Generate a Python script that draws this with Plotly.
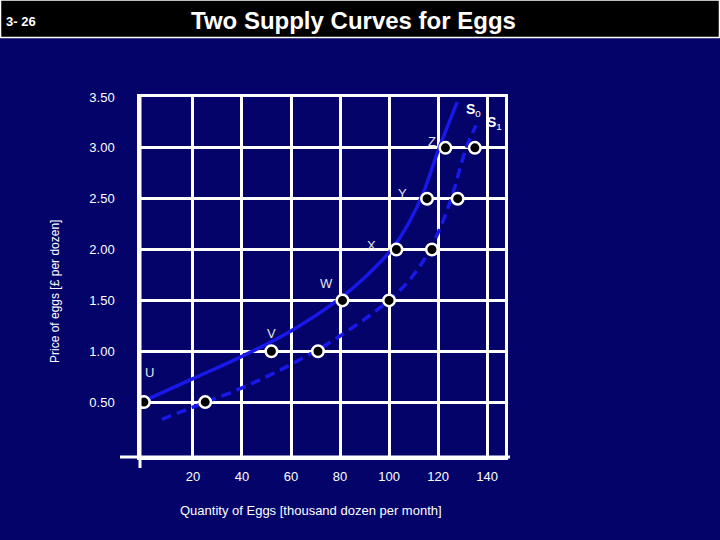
import plotly.graph_objects as go

# ---- data ----
prices = [0.50, 1.00, 1.50, 2.00, 2.50, 3.00]
s0_qty = [0, 52, 81, 103, 115.5, 123]
s1_qty = [25, 71, 100, 117.5, 128, 135]
point_labels = ["U", "V", "W", "X", "Y", "Z"]

# hand-drawn supply curves
s0_curve_x = [1.6, 20, 40, 60, 80, 92, 101, 108, 114, 120, 127.8]
s0_curve_y = [0.53, 0.73, 0.95, 1.20, 1.52, 1.77, 2.00, 2.26, 2.56, 2.97, 3.45]
s1_curve_x = [7.3, 20, 40, 60, 80, 100, 109, 116, 121.5, 126, 131.5, 135.5]
s1_curve_y = [0.33, 0.45, 0.64, 0.87, 1.15, 1.50, 1.72, 1.97, 2.25, 2.55, 3.00, 3.22]

x_ticks = [20, 40, 60, 80, 100, 120, 140]
y_ticks = [0.50, 1.00, 1.50, 2.00, 2.50, 3.00, 3.50]

title_text = "Two Supply Curves for Eggs"
slide_no = "3- 26"
x_title = "Quantity of Eggs [thousand dozen per month]"
y_title = "Price of eggs [£ per dozen]"

# ---- layout geometry (pixels) ----
W, H = 720, 540
L, R, T, B = 140, 505, 97, 457
BG = "#03036a"
CURVE = "#1818e8"
FONT = "Liberation Sans, Arial, sans-serif"


def px(xp):
    return (xp - L) / (R - L)


def py(yp):
    return (B - yp) / (B - T)


fig = go.Figure()

fig.add_trace(go.Scatter(x=s0_curve_x, y=s0_curve_y, mode="lines",
                         line=dict(color=CURVE, width=3.5, shape="spline", smoothing=1),
                         hoverinfo="skip", showlegend=False))
fig.add_trace(go.Scatter(x=s1_curve_x, y=s1_curve_y, mode="lines",
                         line=dict(color=CURVE, width=3.5, shape="spline", smoothing=1,
                                   dash="10px,6px"),
                         hoverinfo="skip", showlegend=False))

marker = dict(size=11.5, color="black", line=dict(color="white", width=2.5))
fig.add_trace(go.Scatter(x=s0_qty, y=prices, mode="markers", marker=marker,
                         showlegend=False, name="S0"))
fig.add_trace(go.Scatter(x=s1_qty, y=prices, mode="markers", marker=marker,
                         showlegend=False, name="S1"))

annotations = []
# point labels, offset from their points in pixels
offsets = [(6, 30), (0, 18), (-16, 17), (-25, 4), (-25, 5), (-13, 6)]
for lab, xq, yp, (dx, dy) in zip(point_labels, s0_qty, prices, offsets):
    annotations.append(dict(x=xq, y=yp, xref="x", yref="y", text=lab, showarrow=False,
                            xshift=dx, yshift=dy,
                            font=dict(family=FONT, size=13, color="#e6e6e6")))

annotations += [
    dict(x=px(464), y=py(110), xref="paper", yref="paper", xanchor="left", yanchor="middle",
         text="<b>S</b><sub>0</sub>", showarrow=False,
         font=dict(family=FONT, size=14, color="white")),
    dict(x=px(485), y=py(123), xref="paper", yref="paper", xanchor="left", yanchor="middle",
         text="<b>S</b><sub>1</sub>", showarrow=False,
         font=dict(family=FONT, size=14, color="white")),
    dict(x=px(353), y=py(20), xref="paper", yref="paper", xanchor="center", yanchor="middle",
         text="<b>" + title_text + "</b>", showarrow=False,
         font=dict(family=FONT, size=24, color="white")),
    dict(x=px(4), y=py(21), xref="paper", yref="paper", xanchor="left", yanchor="middle",
         text="<b>" + slide_no + "</b>", showarrow=False,
         font=dict(family=FONT, size=13, color="white")),
    dict(x=px(311), y=py(510), xref="paper", yref="paper", xanchor="center", yanchor="middle",
         text=x_title, showarrow=False,
         font=dict(family=FONT, size=13, color="white")),
    dict(x=px(55), y=py(292), xref="paper", yref="paper", xanchor="center", yanchor="middle",
         text=y_title, showarrow=False, textangle=-90,
         font=dict(family=FONT, size=12, color="white")),
]

shapes = [
    # header bar
    dict(type="rect", xref="paper", yref="paper", x0=px(0.5), x1=px(719.5),
         y0=py(37.5), y1=py(0), fillcolor="black", line=dict(color="white", width=1.5),
         layer="above"),
    # axis cross extensions
    dict(type="line", xref="paper", yref="paper", x0=px(120), x1=px(510), y0=0, y1=0,
         line=dict(color="white", width=3)),
    dict(type="line", xref="paper", yref="paper", x0=0, x1=0, y0=py(468), y1=1,
         line=dict(color="white", width=3)),
]

fig.update_layout(
    width=W, height=H,
    margin=dict(l=L, r=W - R, t=T, b=H - B, pad=0),
    paper_bgcolor=BG, plot_bgcolor=BG,
    font=dict(family=FONT, size=13, color="white"),
    annotations=annotations, shapes=shapes,
    showlegend=False,
)
fig.update_xaxes(range=[-1.6, 147.3], tickvals=x_ticks, ticktext=[str(v) for v in x_ticks],
                 showgrid=True, gridcolor="white", gridwidth=2.5,
                 showline=True, mirror=True, linecolor="white", linewidth=2.5,
                 zeroline=False, ticks="", ticklabelstandoff=6,
                 tickfont=dict(family=FONT, size=13, color="white"))
fig.update_yaxes(range=[-0.04, 3.5], tickvals=y_ticks, ticktext=["%.2f" % v for v in y_ticks],
                 showgrid=True, gridcolor="white", gridwidth=2.5,
                 showline=True, mirror=True, linecolor="white", linewidth=2.5,
                 zeroline=False, ticks="", ticklabelstandoff=20,
                 tickfont=dict(family=FONT, size=13, color="white"))

fig.write_html("out.html", config={"displayModeBar": False},
               post_script="document.body.style.margin='0';document.body.style.background='%s';" % BG)
